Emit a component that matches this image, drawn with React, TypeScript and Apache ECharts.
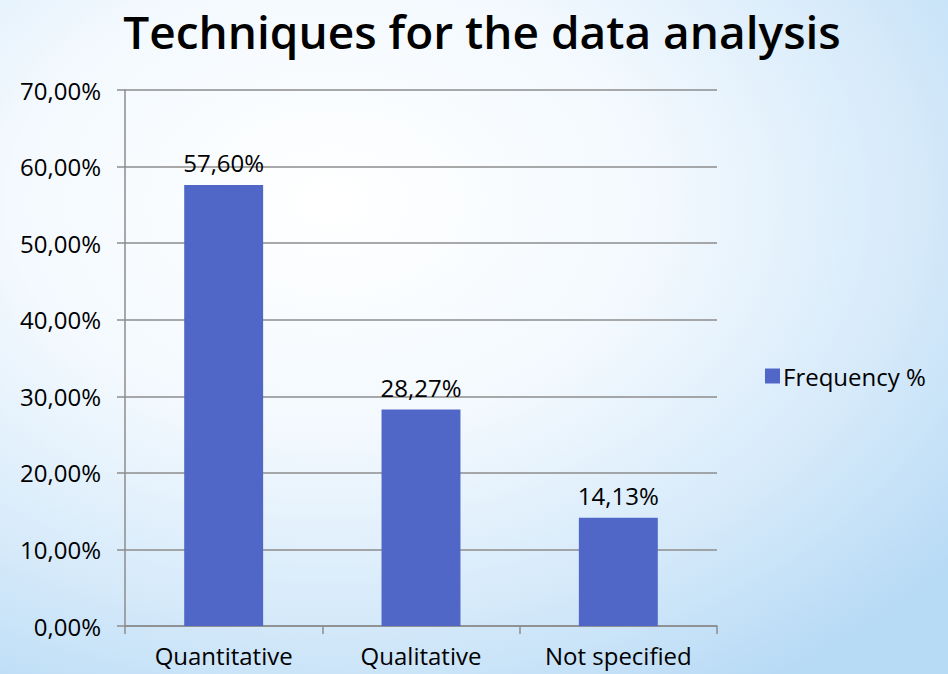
import React, { useEffect, useRef } from "react";
import * as echarts from "echarts";

const categories = ["Quantitative", "Qualitative", "Not specified"];
const frequency = [57.6, 28.27, 14.13];
const seriesName = "Frequency %";
const titleText = "Techniques for the data analysis";

const fmt = (v: number) => v.toFixed(2).replace(".", ",") + "%";

export default function App() {
  const ref = useRef<HTMLDivElement>(null);
  useEffect(() => {
    const chart = echarts.init(ref.current!, undefined, { renderer: "svg" });
    const font = "Open Sans";
    chart.setOption({
      animation: false,
      backgroundColor: new echarts.graphic.RadialGradient(0.35, 0.3, 0.85, [
        { offset: 0, color: "#ffffff" },
        { offset: 0.4, color: "#f3f9fe" },
        { offset: 0.72, color: "#d6eafa" },
        { offset: 1, color: "#b7daf5" },
      ]),
      title: {
        text: titleText,
        left: 477,
        textAlign: "center",
        top: 3,
        textStyle: { fontFamily: font, fontSize: 46, fontWeight: 600, color: "#000" },
      },
      legend: {
        data: [seriesName],
        left: 760,
        top: 359,
        itemWidth: 15,
        itemHeight: 15,
        itemGap: 6,
        icon: "rect",
        textStyle: { fontFamily: font, fontSize: 24, color: "#000", padding: [0, 0, 0, -2] },
      },
      grid: { left: 125, right: 231, top: 90, bottom: 48 },
      xAxis: {
        type: "category",
        data: categories,
        axisLine: { lineStyle: { color: "#8c8c8c", width: 1.5 } },
        axisTick: { show: true, length: 8, lineStyle: { color: "#8c8c8c", width: 1.5 } },
        axisLabel: { fontFamily: font, fontSize: 24, color: "#000", margin: 17 },
      },
      yAxis: {
        type: "value",
        min: 0,
        max: 70,
        interval: 10,
        axisLine: { show: true, lineStyle: { color: "#8c8c8c", width: 1.5 } },
        axisTick: { show: true, length: 8, lineStyle: { color: "#8c8c8c", width: 1.5 } },
        splitLine: { lineStyle: { color: "#8c8c8c", width: 1.5 } },
        axisLabel: {
          fontFamily: font,
          fontSize: 24,
          color: "#000",
          margin: 24,
          formatter: (v: number) => fmt(v),
        },
      },
      series: [
        {
          name: seriesName,
          type: "bar",
          data: frequency,
          barWidth: "40%",
          itemStyle: { color: "#5067c8" },
          label: {
            show: true,
            position: "top",
            distance: 10,
            fontFamily: font,
            fontSize: 24,
            color: "#000",
            formatter: (p: any) => fmt(p.value),
          },
        },
      ],
    });
    return () => chart.dispose();
  }, []);
  return (
    <div
      ref={ref}
      style={{ position: "absolute", left: 0, top: 0, width: 948, height: 674 }}
    />
  );
}
